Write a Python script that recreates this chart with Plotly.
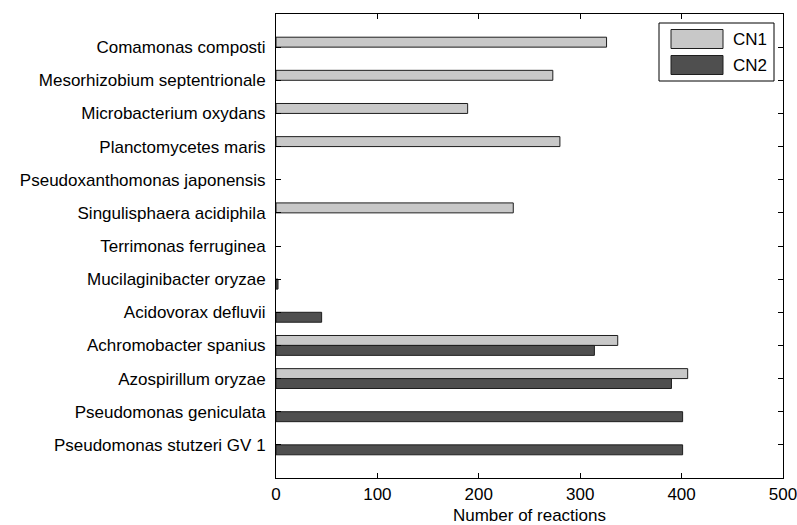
import plotly.graph_objects as go

# Species, listed top to bottom
species = [
    "Comamonas composti",
    "Mesorhizobium septentrionale",
    "Microbacterium oxydans",
    "Planctomycetes maris",
    "Pseudoxanthomonas japonensis",
    "Singulisphaera acidiphila",
    "Terrimonas ferruginea",
    "Mucilaginibacter oryzae",
    "Acidovorax defluvii",
    "Achromobacter spanius",
    "Azospirillum oryzae",
    "Pseudomonas geniculata",
    "Pseudomonas stutzeri GV 1",
]

# Number of reactions per species in each network
cn1 = [326, 273, 189, 280, 0, 234, 0, 0, 0, 337, 406, 0, 0]
cn2 = [0, 0, 0, 0, 0, 0, 0, 2, 45, 314, 390, 401, 401]

x_ticks = [0, 100, 200, 300, 400, 500]

COLOR_CN1 = "#c8c8c8"
COLOR_CN2 = "#4f4f4f"
EDGE = "#1e1e1e"
FONT = "Liberation Sans, Arial, Helvetica, sans-serif"

W, H = 797, 525
ML, MR, MT, MB = 276, 14, 14, 47
PW, PH = W - ML - MR, H - MT - MB


def px(xp):
    return (xp - ML) / PW


def py(yp):
    return (H - MB - yp) / PH


def edge_widths(values):
    # empty bars get no outline so nothing is drawn for them
    return [1 if v > 0 else 0 for v in values]


fig = go.Figure()
fig.add_trace(go.Bar(
    y=species, x=cn1, orientation="h", name="CN1",
    marker=dict(color=COLOR_CN1, line=dict(color=EDGE, width=edge_widths(cn1))),
))
fig.add_trace(go.Bar(
    y=species, x=cn2, orientation="h", name="CN2",
    marker=dict(color=COLOR_CN2, line=dict(color=EDGE, width=edge_widths(cn2))),
))

# Legend box drawn in the upper right corner
shapes = [
    dict(type="rect", xref="paper", yref="paper",
         x0=px(659), x1=px(774), y0=py(81), y1=py(23),
         line=dict(color="#000000", width=1), fillcolor="#ffffff"),
    dict(type="rect", xref="paper", yref="paper",
         x0=px(671), x1=px(723), y0=py(48.5), y1=py(29.5),
         line=dict(color=EDGE, width=1), fillcolor=COLOR_CN1),
    dict(type="rect", xref="paper", yref="paper",
         x0=px(671), x1=px(723), y0=py(74.5), y1=py(55.5),
         line=dict(color=EDGE, width=1), fillcolor=COLOR_CN2),
]
annotations = [
    dict(xref="paper", yref="paper", x=px(731), y=py(39), text="CN1",
         showarrow=False, xanchor="left", yanchor="middle",
         font=dict(family=FONT, size=17, color="#000000")),
    dict(xref="paper", yref="paper", x=px(731), y=py(65), text="CN2",
         showarrow=False, xanchor="left", yanchor="middle",
         font=dict(family=FONT, size=17, color="#000000")),
]

fig.update_layout(
    width=W, height=H,
    margin=dict(l=ML, r=MR, t=MT, b=MB, pad=0),
    paper_bgcolor="#ffffff", plot_bgcolor="#ffffff",
    barmode="group", bargap=0.4, bargroupgap=0,
    showlegend=False,
    font=dict(family=FONT, size=17, color="#000000"),
    shapes=shapes, annotations=annotations,
    xaxis=dict(
        range=[0, 500.0001], tickvals=x_ticks, ticktext=[str(v) for v in x_ticks],
        ticks="inside", ticklen=5, tickcolor="#000000",
        showline=True, linecolor="#000000", linewidth=1, mirror="ticks",
        showgrid=False, zeroline=False, ticklabelstandoff=1,
        ticklabeloverflow="allow",
        title=dict(text="Number of reactions", standoff=21,
                   font=dict(family=FONT, size=17)),
        tickfont=dict(family=FONT, size=17),
        automargin=False,
    ),
    yaxis=dict(
        type="category", categoryorder="array", categoryarray=species,
        range=[len(species), -1],
        ticks="inside", ticklen=5, tickcolor="#000000",
        showline=True, linecolor="#000000", linewidth=1, mirror="ticks",
        showgrid=False, zeroline=False, ticklabelstandoff=6,
        tickfont=dict(family=FONT, size=17),
        automargin=False,
    ),
)

fig.write_html("out.html")
